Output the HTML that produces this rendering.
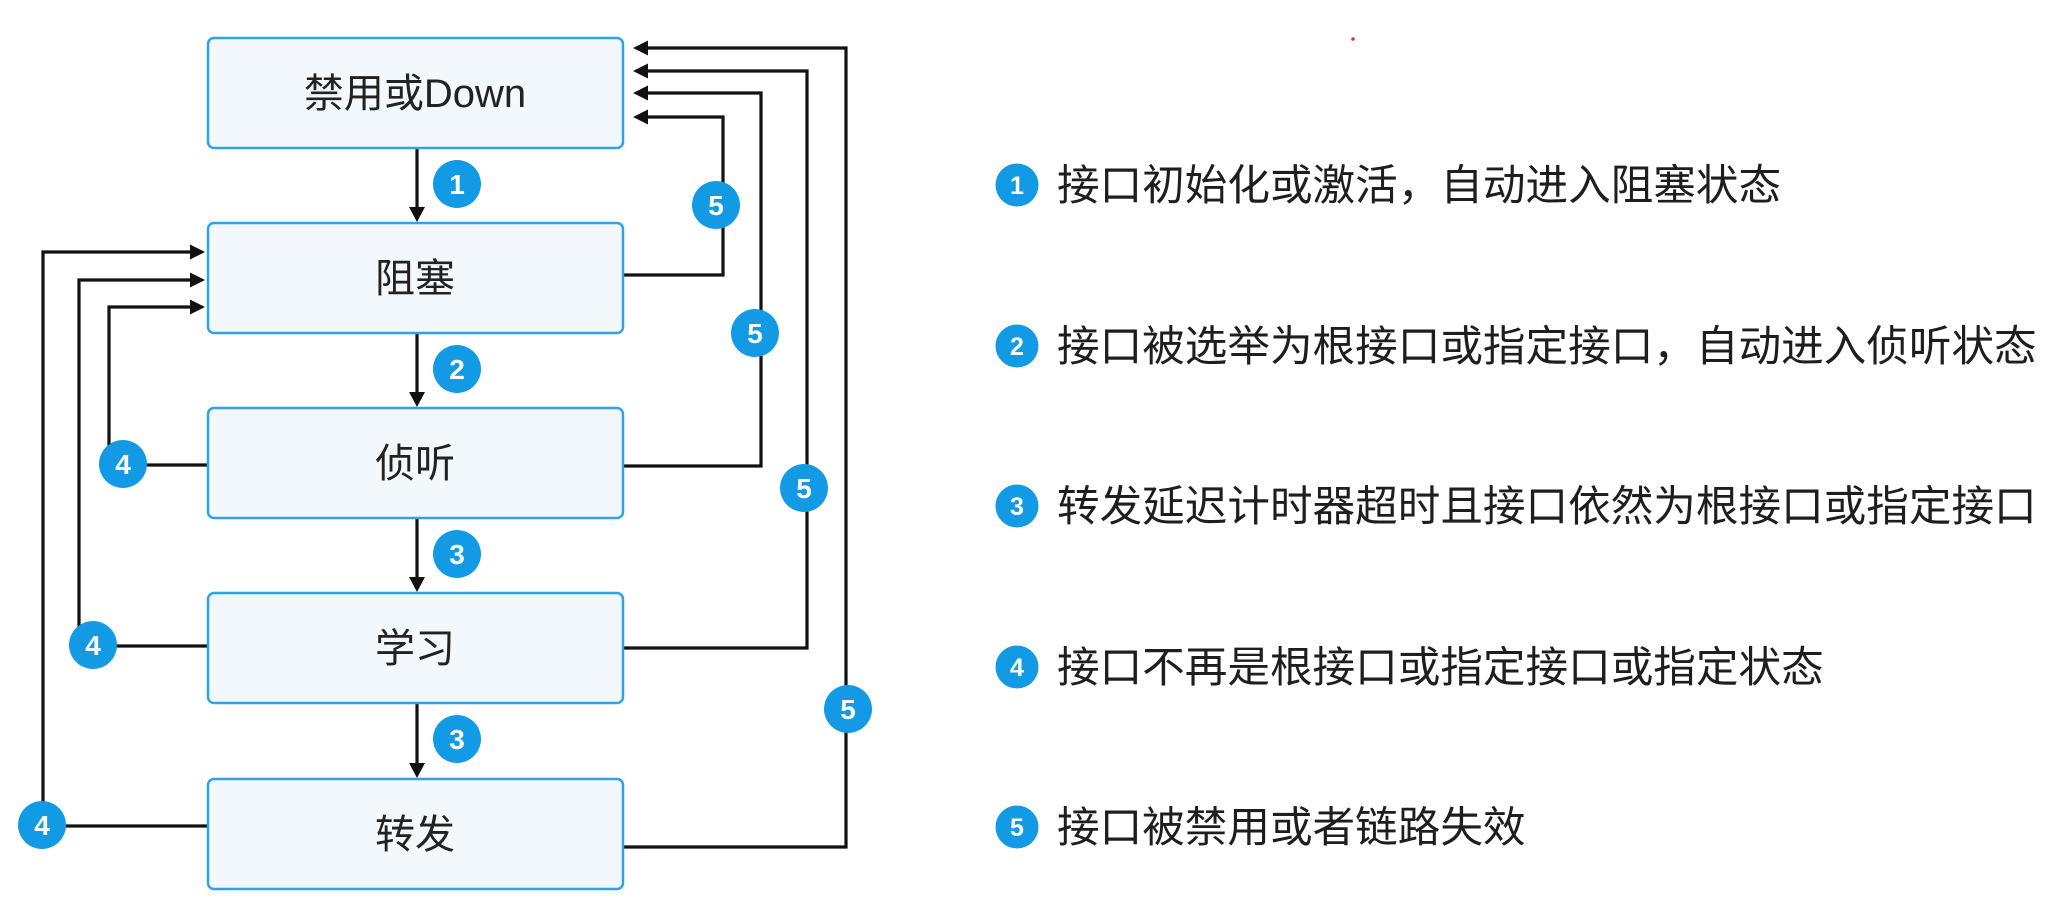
<!DOCTYPE html>
<html>
<head>
<meta charset="utf-8">
<style>
  html,body{margin:0;padding:0;background:#fff;}
  body{width:2046px;height:905px;overflow:hidden;}
  svg{display:block;}
  .box{fill:#f3f8fc;stroke:#2ea3e6;stroke-width:2.5;}
  .lbl{font-family:"Liberation Sans","Noto Sans CJK SC",sans-serif;font-size:40px;fill:#222;}
  .ln{fill:none;stroke:#111;stroke-width:3.2;}
  .ah{fill:#111;}
  .bd{fill:#129be4;}
  .bn{font-family:"Liberation Sans","DejaVu Sans",sans-serif;font-weight:bold;fill:#fff;}
  .txt{font-family:"Liberation Sans","Noto Sans CJK SC",sans-serif;font-size:42.6px;fill:#1e1e1e;}
</style>
</head>
<body>
<svg width="2046" height="905" viewBox="0 0 2046 905" xmlns="http://www.w3.org/2000/svg">
  <!-- connectors: down arrows -->
  <g>
    <line class="ln" x1="417" y1="148" x2="417" y2="209"/>
    <polygon class="ah" points="409,207 425,207 417,222"/>
    <line class="ln" x1="417" y1="333" x2="417" y2="394"/>
    <polygon class="ah" points="409,392 425,392 417,407"/>
    <line class="ln" x1="417" y1="518" x2="417" y2="579"/>
    <polygon class="ah" points="409,577 425,577 417,592"/>
    <line class="ln" x1="417" y1="703" x2="417" y2="765"/>
    <polygon class="ah" points="409,763 425,763 417,778"/>
  </g>

  <!-- left return arrows (4) -->
  <g>
    <path class="ln" d="M207,465 H109 V307 H193"/>
    <polygon class="ah" points="190,299.5 190,314.5 205,307"/>
    <path class="ln" d="M207,646 H79 V280 H193"/>
    <polygon class="ah" points="190,272.5 190,287.5 205,280"/>
    <path class="ln" d="M207,826 H43 V252 H193"/>
    <polygon class="ah" points="190,244.5 190,259.5 205,252"/>
  </g>

  <!-- right return arrows (5) -->
  <g>
    <path class="ln" d="M623,275 H723 V117 H646"/>
    <polygon class="ah" points="648,109.5 648,124.5 633,117"/>
    <path class="ln" d="M623,466 H761 V93 H646"/>
    <polygon class="ah" points="648,85.5 648,100.5 633,93"/>
    <path class="ln" d="M623,648 H807 V71 H646"/>
    <polygon class="ah" points="648,63.5 648,78.5 633,71"/>
    <path class="ln" d="M623,847 H846 V48 H646"/>
    <polygon class="ah" points="648,40.5 648,55.5 633,48"/>
  </g>

  <!-- boxes -->
  <g>
    <rect class="box" x="208" y="38" width="415" height="110" rx="6"/>
    <text class="lbl" x="415" y="107" text-anchor="middle">禁用或Down</text>
    <rect class="box" x="208" y="223" width="415" height="110" rx="6"/>
    <text class="lbl" x="415" y="292" text-anchor="middle">阻塞</text>
    <rect class="box" x="208" y="408" width="415" height="110" rx="6"/>
    <text class="lbl" x="415" y="477" text-anchor="middle">侦听</text>
    <rect class="box" x="208" y="593" width="415" height="110" rx="6"/>
    <text class="lbl" x="415" y="662" text-anchor="middle">学习</text>
    <rect class="box" x="208" y="779" width="415" height="110" rx="6"/>
    <text class="lbl" x="415" y="848" text-anchor="middle">转发</text>
  </g>

  <!-- diagram badges -->
  <g>
    <circle class="bd" cx="457" cy="184" r="24"/><text class="bn" x="457" y="194" font-size="28" text-anchor="middle">1</text>
    <circle class="bd" cx="457" cy="369" r="24"/><text class="bn" x="457" y="379" font-size="28" text-anchor="middle">2</text>
    <circle class="bd" cx="457" cy="554" r="24"/><text class="bn" x="457" y="564" font-size="28" text-anchor="middle">3</text>
    <circle class="bd" cx="457" cy="739" r="24"/><text class="bn" x="457" y="749" font-size="28" text-anchor="middle">3</text>

    <circle class="bd" cx="123" cy="464" r="24"/><text class="bn" x="123" y="474" font-size="28" text-anchor="middle">4</text>
    <circle class="bd" cx="93" cy="645" r="24"/><text class="bn" x="93" y="655" font-size="28" text-anchor="middle">4</text>
    <circle class="bd" cx="42" cy="825" r="24"/><text class="bn" x="42" y="835" font-size="28" text-anchor="middle">4</text>

    <circle class="bd" cx="716" cy="205" r="24"/><text class="bn" x="716" y="215" font-size="28" text-anchor="middle">5</text>
    <circle class="bd" cx="755" cy="333" r="24"/><text class="bn" x="755" y="343" font-size="28" text-anchor="middle">5</text>
    <circle class="bd" cx="804" cy="488" r="24"/><text class="bn" x="804" y="498" font-size="28" text-anchor="middle">5</text>
    <circle class="bd" cx="848" cy="709" r="24"/><text class="bn" x="848" y="719" font-size="28" text-anchor="middle">5</text>
  </g>

  <!-- legend -->
  <g>
    <circle class="bd" cx="1017" cy="185" r="21.5"/><text class="bn" x="1017" y="194" font-size="25" text-anchor="middle">1</text>
    <text class="txt" x="1057" y="200">接口初始化或激活，自动进入阻塞状态</text>

    <circle class="bd" cx="1017" cy="346" r="21.5"/><text class="bn" x="1017" y="355" font-size="25" text-anchor="middle">2</text>
    <text class="txt" x="1057" y="361">接口被选举为根接口或指定接口，自动进入侦听状态</text>

    <circle class="bd" cx="1017" cy="506" r="21.5"/><text class="bn" x="1017" y="515" font-size="25" text-anchor="middle">3</text>
    <text class="txt" x="1057" y="521">转发延迟计时器超时且接口依然为根接口或指定接口</text>

    <circle class="bd" cx="1017" cy="667" r="21.5"/><text class="bn" x="1017" y="676" font-size="25" text-anchor="middle">4</text>
    <text class="txt" x="1057" y="682">接口不再是根接口或指定接口或指定状态</text>

    <circle class="bd" cx="1017" cy="827" r="21.5"/><text class="bn" x="1017" y="836" font-size="25" text-anchor="middle">5</text>
    <text class="txt" x="1057" y="842">接口被禁用或者链路失效</text>
  </g>

  <!-- tiny red dot -->
  <circle cx="1353" cy="39" r="1.8" fill="#d04020"/>
</svg>
</body>
</html>
